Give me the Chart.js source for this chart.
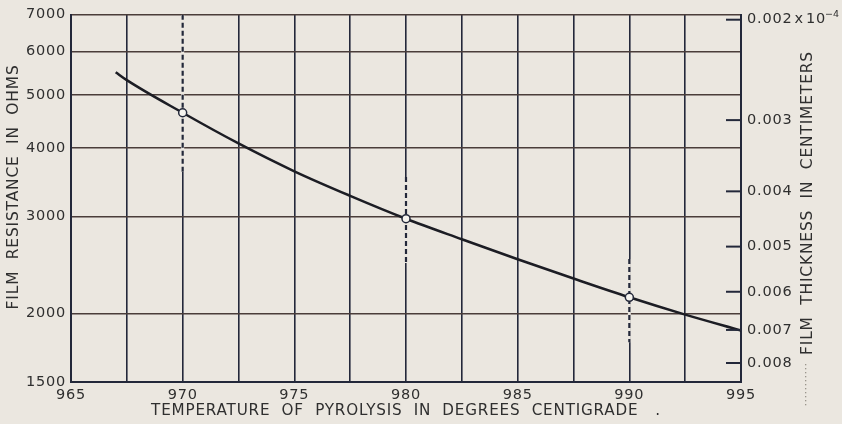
<!DOCTYPE html>
<html lang="en">
<head>
<meta charset="UTF-8">
<title>Film resistance vs temperature of pyrolysis</title>
<script src="https://cdn.jsdelivr.net/npm/chart.js"></script>
<style>
  html, body { margin: 0; padding: 0; background: #ebe7e0; }
  #wrap { width: 842px; height: 424px; }
</style>
</head>
<body>
<div id="wrap"><canvas id="chart" width="842" height="424"></canvas></div>
<script>
// curve
const temps = [967, 967.5, 970, 972.5, 975, 977.5, 980, 982.5, 985, 987.5, 990, 992.5, 995];
const resistance = [5500, 5320, 4640, 4080, 3630, 3275, 2975, 2730, 2510, 2315, 2140, 1990, 1862];

// measured points (open circles) and their dashed spread
const markedTemps = [970, 980, 990];
const markedResistance = [4640, 2975, 2140];
const spreadHigh = [7000, 3545, 2513];
const spreadLow = [3620, 2471, 1773];

const resistanceTicks = [1500, 2000, 3000, 4000, 5000, 6000, 7000];
const thicknessTicks = [0.002, 0.003, 0.004, 0.005, 0.006, 0.007, 0.008];
const thicknessLabels = ['0.002', '0.003', '0.004', '0.005', '0.006', '0.007', '0.008'];

const paper = '#ebe7e0';
const ink = '#23283a';
const textColor = '#2f2f2f';
const family = '"DejaVu Sans", sans-serif';
const tickFont = { family, size: 14.5 };

const paperPlugin = {
    id: 'paper',
    beforeLayout(chart) {
        chart.ctx.letterSpacing = '0.8px';
    },
    beforeDraw(chart) {
        chart.ctx.letterSpacing = '0.8px';
    },
    afterDraw(chart) {
        const { ctx, chartArea } = chart;
        const y2 = chart.scales.y2;
        ctx.save();
        // right axis ticks point inwards
        ctx.strokeStyle = ink;
        ctx.lineWidth = 2;
        y2.ticks.forEach(t => {
            const py = y2.getPixelForValue(t.value);
            ctx.beginPath();
            ctx.moveTo(chartArea.right - 15, py);
            ctx.lineTo(chartArea.right, py);
            ctx.stroke();
        });

        // "x 10^-4" after the first thickness label
        ctx.fillStyle = textColor;
        ctx.textBaseline = 'middle';
        ctx.textAlign = 'left';
        ctx.font = '14.5px ' + family;
        const py = y2.getPixelForValue(thicknessTicks[0]);
        let px = chartArea.right + 6 + ctx.measureText(thicknessLabels[0]).width + 2;
        ctx.fillText('x', px, py);
        px += ctx.measureText('x').width + 2;
        ctx.fillText('10', px, py);
        px += ctx.measureText('10').width - 1;
        ctx.font = '9.5px ' + family;
        ctx.letterSpacing = '0px';
        ctx.fillText('\u22124', px, py - 5);

        // right axis title reads bottom to top
        ctx.save();
        ctx.translate(808, 203);
        ctx.rotate(-Math.PI / 2);
        ctx.font = '15.5px ' + family;
        ctx.letterSpacing = '0.8px';
        ctx.textAlign = 'center';
        ctx.fillText('FILM  THICKNESS  IN  CENTIMETERS', 0, 0);
        ctx.restore();

        // faint dotted leader under the title
        ctx.fillStyle = '#9a958c';
        for (let y = 364; y < 408; y += 4) {
            ctx.fillRect(805, y, 1.3, 1.3);
        }
        ctx.restore();
    }
};

const datasets = [];
datasets.push({
    data: markedTemps.map((t, i) => ({ x: t, y: markedResistance[i] })),
    showLine: false,
    pointRadius: 4,
    pointBackgroundColor: '#f6f4ef',
    pointBorderColor: ink,
    pointBorderWidth: 1.5,
    yAxisID: 'y',
    order: 0
});
datasets.push({
    data: temps.map((t, i) => ({ x: t, y: resistance[i] })),
    borderColor: '#1c1d24',
    borderWidth: 2.5,
    cubicInterpolationMode: 'monotone',
    pointRadius: 0,
    yAxisID: 'y',
    order: 1
});
markedTemps.forEach((t, i) => {
    const seg = [{ x: t, y: spreadHigh[i] }, { x: t, y: spreadLow[i] }];
    datasets.push({ data: seg, borderColor: ink, borderWidth: 2.2, borderDash: [5, 3], pointRadius: 0, yAxisID: 'y', order: 2 });
    datasets.push({ data: seg, borderColor: paper, borderWidth: 3, pointRadius: 0, yAxisID: 'y', order: 3 });
});

new Chart(document.getElementById('chart'), {
    type: 'line',
    data: { datasets },
    plugins: [paperPlugin],
    options: {
        responsive: false,
        animation: false,
        layout: { padding: { top: 11, left: 0, right: 0, bottom: 0 } },
        plugins: { legend: { display: false }, tooltip: { enabled: false } },
        scales: {
            x: {
                type: 'linear',
                position: 'bottom',
                min: 965,
                max: 995,
                afterFit: s => { s.height = 42; },
                grid: { color: ink, lineWidth: 1.6, drawTicks: false },
                border: { display: true, color: ink, width: 2 },
                ticks: {
                    stepSize: 2.5,
                    autoSkip: false,
                    maxRotation: 0,
                    padding: 5,
                    color: textColor,
                    font: tickFont,
                    callback: v => (v % 5 === 0 ? String(v) : '')
                },
                title: {
                    display: true,
                    text: 'TEMPERATURE  OF  PYROLYSIS  IN  DEGREES  CENTIGRADE   .',
                    color: textColor,
                    font: { family, size: 15.2 },
                    padding: { top: 0, bottom: 4 }
                }
            },
            y: {
                type: 'logarithmic',
                position: 'left',
                min: 1500,
                max: 7000,
                afterBuildTicks: s => { s.ticks = resistanceTicks.map(v => ({ value: v })); },
                afterFit: s => { s.width = 71; },
                grid: { color: '#4a3d3a', lineWidth: 1.6, drawTicks: false },
                border: { display: true, color: ink, width: 2 },
                ticks: { padding: 5, color: textColor, font: tickFont, callback: v => String(v) },
                title: {
                    display: true,
                    text: '    FILM  RESISTANCE  IN  OHMS',
                    color: textColor,
                    font: { family, size: 15.5 },
                    padding: { top: 5, bottom: 0 }
                }
            },
            y2: {
                type: 'logarithmic',
                position: 'right',
                reverse: true,
                min: 0.00196,
                max: 0.008638,
                afterBuildTicks: s => { s.ticks = thicknessTicks.map(v => ({ value: v })); },
                afterFit: s => { s.width = 101; },
                grid: { display: false, drawTicks: false },
                border: { display: true, color: ink, width: 2 },
                ticks: {
                    padding: 6,
                    color: textColor,
                    font: tickFont,
                    callback: (v, i) => thicknessLabels[i]
                }
            }
        }
    }
});
</script>
</body>
</html>
